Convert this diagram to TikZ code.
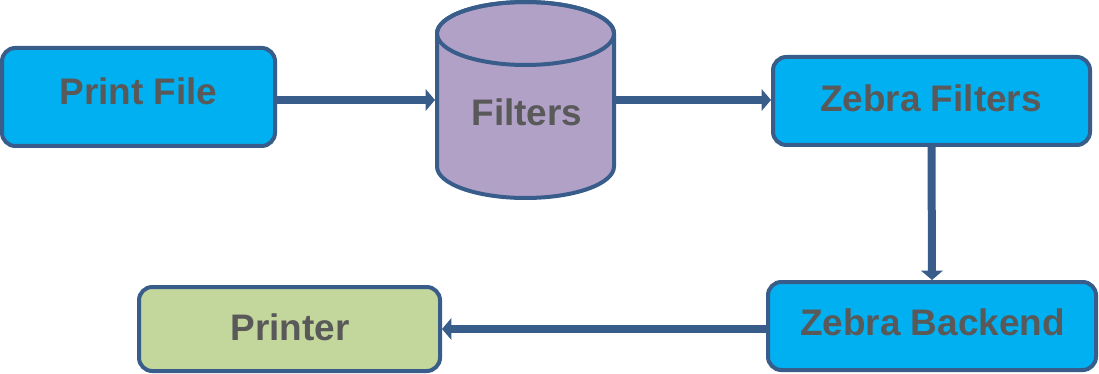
\documentclass[tikz,border=0pt]{standalone}
\usepackage{fontspec}
\setmainfont{Liberation Sans}
\usetikzlibrary{arrows.meta}
\definecolor{bord}{HTML}{385D8A}
\definecolor{bluefill}{HTML}{00B0F0}
\definecolor{purplefill}{HTML}{B2A1C7}
\definecolor{greenfill}{HTML}{C3D69B}
\definecolor{txt}{HTML}{595959}
\begin{document}
\begin{tikzpicture}[x=0.75pt,y=-0.75pt,
  box/.style={draw=bord,line width=3pt,rounded corners=10pt,inner sep=0pt},
  lbl/.style={anchor=base,text=txt,font=\fontsize{27.7}{30}\selectfont\bfseries,inner sep=0pt},
  arr/.style={draw=bord,line width=6pt,-{Triangle[width=16pt,length=7pt]}}]
\useasboundingbox (0,0) rectangle (1099,374);
% cylinder
\filldraw[fill=purplefill,draw=bord,line width=3pt]
  (437,166.5) arc[start angle=180,end angle=360,x radius=66.375pt,y radius=23.625pt]
  -- (614,33.5) arc[start angle=0,end angle=180,x radius=66.375pt,y radius=23.625pt] -- cycle;
\draw[bord,line width=3pt] (525.5,33.5) ellipse[x radius=66.375pt,y radius=23.625pt];
\node[line width=3pt,inner sep=0pt,minimum width=132.75pt,minimum height=147pt] (filt) at (525.5,100) {};
% boxes
\node[box,fill=bluefill,minimum width=204.75pt,minimum height=73.5pt] (pf) at (138.5,97) {};
\node[box,fill=bluefill,minimum width=237.75pt,minimum height=66pt] (zf) at (931.5,101) {};
\node[box,fill=bluefill,minimum width=246pt,minimum height=66pt] (zb) at (932,326) {};
\node[box,fill=greenfill,minimum width=225.75pt,minimum height=63pt] (pr) at (289.5,329) {};
% labels
\node[lbl] (pft) at (138.5,105) {Print File};
\node[lbl] (ft) at (527,126) {Filters};
\node[lbl] (zft) at (931,112) {Zebra Filters};
\node[lbl] (zbt) at (932.5,335) {Zebra Backend};
\node[lbl] (prt) at (290,340) {Printer};
% connectors
\draw[arr] (pf.east |- filt.west) -- (filt.west);
\draw[arr] (filt.east) -- (zf.west |- filt.east);
\draw[arr] (zf.south) -- (zb.north);
\draw[arr] (zb.west |- pr.east) -- (pr.east);
\end{tikzpicture}
\end{document}
